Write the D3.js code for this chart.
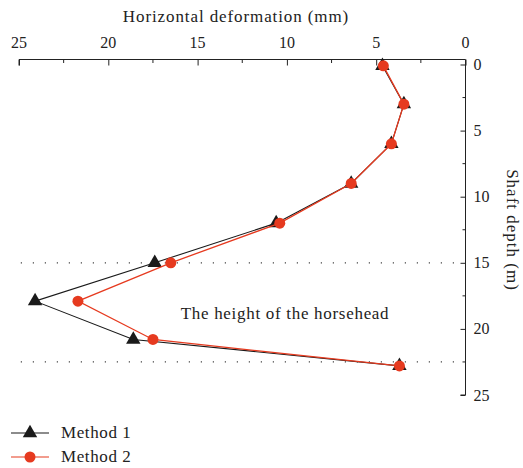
<!DOCTYPE html>
<html>
<head>
<meta charset="utf-8">
<script src="https://cdn.jsdelivr.net/npm/d3@7"></script>
<style>
  html, body { margin: 0; padding: 0; background: #fff; }
  svg { display: block; font-family: "Liberation Serif", "DejaVu Serif", serif; }
</style>
</head>
<body>
<svg id="chart" width="523" height="468"></svg>
<script>
// Shaft depth (m) at each measuring point
const depths = [0.1, 3.0, 6.0, 9.0, 12.0, 15.0, 17.9, 20.8, 22.8];
// Horizontal deformation (mm) per method
const method1 = [4.65, 3.45, 4.15, 6.4, 10.6, 17.4, 24.1, 18.6, 3.7];
const method2 = [4.6, 3.45, 4.15, 6.4, 10.4, 16.5, 21.7, 17.5, 3.7];
const seriesNames = ["Method 1", "Method 2"];
const xTicks = [25, 20, 15, 10, 5, 0];
const yTicks = [0, 5, 10, 15, 20, 25];
const guideDepths = [15, 22.5];
const annotation = "The height of the horsehead";

const svg = d3.select("#chart");
const red = "#e63a1f";
const ink = "#222";

const x = d3.scaleLinear().domain([25, 0]).range([19, 465.5]);
const y = d3.scaleLinear().domain([0, 25]).range([64.5, 395]);
const axisTop = 59.5;

// Dotted guides marking the horsehead zone
svg.selectAll("line.guide").data(guideDepths).join("line")
  .attr("class", "guide")
  .attr("x1", x(24.9)).attr("x2", x(0.1))
  .attr("y1", d => y(d)).attr("y2", d => y(d))
  .attr("stroke", "#444").attr("stroke-width", 1.2)
  .attr("stroke-dasharray", "1.2 10.8");

// Top (horizontal deformation) axis
const xAxis = d3.axisBottom(x).tickValues(xTicks).tickSize(6).tickFormat("");
const gx = svg.append("g").attr("transform", `translate(0,${axisTop})`).call(xAxis);
gx.select(".domain").attr("d", `M${x(25)},6V0H${x(0)}`).attr("stroke", ink);
gx.selectAll(".tick line").attr("stroke", ink);
const xMinor = d3.range(22.5, 0, -5);
gx.selectAll("line.minor").data(xMinor).join("line")
  .attr("class", "minor")
  .attr("x1", d => x(d)).attr("x2", d => x(d))
  .attr("y1", 0).attr("y2", 3.5).attr("stroke", ink);
svg.selectAll("text.xt").data(xTicks).join("text")
  .attr("class", "xt")
  .attr("x", d => x(d)).attr("y", 48)
  .attr("text-anchor", "middle")
  .attr("font-size", 16).attr("fill", ink)
  .text(d => d);
svg.append("text")
  .attr("x", 236).attr("y", 21.5)
  .attr("text-anchor", "middle")
  .attr("font-size", 17).attr("letter-spacing", 0.9).attr("fill", ink)
  .text("Horizontal deformation (mm)");

// Right (shaft depth) axis
const yAxis = d3.axisLeft(y).tickValues(yTicks).tickSize(5).tickFormat("");
const gy = svg.append("g").attr("transform", `translate(${x(0)},0)`).call(yAxis);
gy.select(".domain").attr("d", `M0,${axisTop}V${y(25)}H-5`).attr("stroke", ink);
gy.selectAll(".tick line").attr("stroke", ink);
const yMinor = d3.range(2.5, 25, 5);
gy.selectAll("line.minor").data(yMinor).join("line")
  .attr("class", "minor")
  .attr("y1", d => y(d)).attr("y2", d => y(d))
  .attr("x1", 0).attr("x2", -3).attr("stroke", ink);
svg.selectAll("text.yt").data(yTicks).join("text")
  .attr("class", "yt")
  .attr("x", x(0) + 8).attr("y", d => y(d) + 5.5)
  .attr("font-size", 16).attr("fill", ink)
  .text(d => d);
svg.append("text")
  .attr("transform", `translate(507,230) rotate(90)`)
  .attr("text-anchor", "middle")
  .attr("font-size", 17).attr("letter-spacing", 1).attr("fill", ink)
  .text("Shaft depth (m)");

// Annotation
svg.append("text")
  .attr("x", 285).attr("y", 319)
  .attr("text-anchor", "middle")
  .attr("font-size", 17).attr("letter-spacing", 0.7).attr("fill", ink)
  .text(annotation);

const line = d3.line().x(d => x(d[0])).y(d => y(d[1]));
const pts1 = method1.map((v, i) => [v, depths[i]]);
const pts2 = method2.map((v, i) => [v, depths[i]]);
const tri = d3.symbol().type(d3.symbolTriangle).size(90);

// Method 1: black line with triangles
svg.append("path").attr("d", line(pts1))
  .attr("fill", "none").attr("stroke", "#1a1a1a").attr("stroke-width", 1.1);
svg.selectAll("path.m1").data(pts1).join("path")
  .attr("class", "m1")
  .attr("transform", d => `translate(${x(d[0])},${y(d[1])})`)
  .attr("d", tri).attr("fill", "#1a1a1a");

// Method 2: red line with circles
svg.append("path").attr("d", line(pts2))
  .attr("fill", "none").attr("stroke", red).attr("stroke-width", 1.3);
svg.selectAll("circle.m2").data(pts2).join("circle")
  .attr("class", "m2")
  .attr("cx", d => x(d[0])).attr("cy", d => y(d[1]))
  .attr("r", 5.5).attr("fill", red);

// Legend
const legend = svg.append("g");
const items = [
  { name: seriesNames[0], color: "#1a1a1a", shape: "tri", yy: 433 },
  { name: seriesNames[1], color: red, shape: "circ", yy: 457 }
];
items.forEach(it => {
  legend.append("line").attr("x1", 11).attr("x2", 49)
    .attr("y1", it.yy).attr("y2", it.yy)
    .attr("stroke", it.color).attr("stroke-width", 1.2);
  if (it.shape === "tri") {
    legend.append("path").attr("transform", `translate(30,${it.yy})`)
      .attr("d", tri).attr("fill", it.color);
  } else {
    legend.append("circle").attr("cx", 30).attr("cy", it.yy).attr("r", 5.5).attr("fill", it.color);
  }
  legend.append("text").attr("x", 61).attr("y", it.yy + 5)
    .attr("font-size", 17).attr("letter-spacing", 0.6).attr("fill", ink).text(it.name);
});
</script>
</body>
</html>
